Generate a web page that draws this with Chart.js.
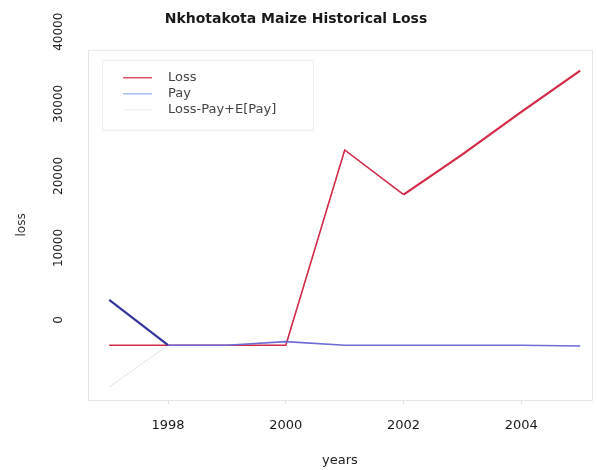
<!DOCTYPE html>
<html lang="en">
<head>
    <meta charset="UTF-8">
    <title>Nkhotakota Maize Historical Loss</title>
    <script src="https://cdn.jsdelivr.net/npm/chart.js"></script>
    <style>
        body {
            margin: 0;
            padding: 0;
            background: #ffffff;
        }
        .chart-box {
            width: 597px;
            height: 470px;
        }
    </style>
</head>
<body>
    <div class="chart-box">
        <canvas id="lossChart" width="597" height="470"></canvas>
    </div>

    <script>
        // values
        var years = [1997, 1998, 1999, 2000, 2001, 2002, 2003, 2004, 2005];
        var loss = [-3500, -3500, -3500, -3500, 23600, 17400, 23000, 28900, 34600];
        var pay = [2800, -3500, -3500, -3000, -3500, -3500, -3500, -3500, -3600];
        var adjusted = [-9300, -3500, -3500, -3500, 23600, 17400, 23000, 28900, 34600];

        var xTicks = [1998, 2000, 2002, 2004];
        var yTicks = [0, 10000, 20000, 30000, 40000];

        var FONT = "'DejaVu Sans', sans-serif";

        function toPoints(vals) {
            return vals.map(function (v, i) { return { x: years[i], y: v }; });
        }

        // plot frame + legend box inside the plot, like base R
        var framePlugin = {
            id: 'frame',
            afterDraw: function (chart) {
                var ctx = chart.ctx;
                var a = chart.chartArea;
                ctx.save();
                ctx.strokeStyle = '#e6e6e6';
                ctx.lineWidth = 1;
                ctx.strokeRect(a.left + 0.5, a.top + 0.5, a.right - a.left, a.bottom - a.top);

                // legend
                var lx = a.left + 14, ly = a.top + 10;
                ctx.strokeStyle = '#ececec';
                ctx.strokeRect(lx + 0.5, ly + 0.5, 211, 70);
                ctx.font = '13px ' + FONT;
                ctx.textBaseline = 'middle';
                chart.data.datasets.forEach(function (ds, i) {
                    var y = ly + 18 + i * 16;
                    ctx.strokeStyle = ds.legendColor || ds.borderColor;
                    ctx.lineWidth = 1.2;
                    ctx.beginPath();
                    ctx.moveTo(lx + 21, y);
                    ctx.lineTo(lx + 50, y);
                    ctx.stroke();
                    ctx.fillStyle = '#444';
                    ctx.fillText(ds.label, lx + 66, y);
                });

                // rotated y tick labels
                var ys = chart.scales.y;
                ctx.font = '12px ' + FONT;
                ctx.fillStyle = '#222';
                ctx.textAlign = 'center';
                yTicks.forEach(function (t) {
                    ctx.save();
                    ctx.translate(59, ys.getPixelForValue(t));
                    ctx.rotate(-Math.PI / 2);
                    ctx.fillText(String(t), 0, 0);
                    ctx.restore();
                });
                ctx.restore();
            }
        };

        var ctx = document.getElementById('lossChart').getContext('2d');
        var lossChart = new Chart(ctx, {
            type: 'line',
            data: {
                datasets: [{
                    label: 'Loss',
                    data: toPoints(loss),
                    borderColor: '#d42a48',
                    borderWidth: 1.6,
                    order: 2,
                    segment: {
                        borderWidth: function (c) { return c.p0DataIndex >= 5 ? 2.2 : undefined; }
                    }
                }, {
                    label: 'Pay',
                    data: toPoints(pay),
                    borderColor: '#6c6cd4',
                    legendColor: '#8fb0ea',
                    borderWidth: 1.6,
                    order: 1,
                    segment: {
                        borderColor: function (c) { return c.p0DataIndex === 0 ? '#34349e' : undefined; },
                        borderWidth: function (c) { return c.p0DataIndex === 0 ? 2.2 : undefined; }
                    }
                }, {
                    label: 'Loss-Pay+E[Pay]',
                    data: toPoints(adjusted),
                    borderColor: '#e6e0f0',
                    legendColor: '#f0f0f0',
                    borderWidth: 1,
                    order: 3
                }]
            },
            options: {
                responsive: false,
                animation: false,
                layout: { padding: { right: 5 } },
                elements: {
                    point: { radius: 0 },
                    line: { tension: 0 }
                },
                plugins: {
                    legend: { display: false },
                    tooltip: { enabled: false },
                    title: {
                        display: true,
                        text: 'Nkhotakota Maize Historical Loss',
                        color: '#1a1a1a',
                        font: { family: FONT, size: 14, weight: 'bold' },
                        padding: { top: 11, bottom: 22 }
                    }
                },
                scales: {
                    x: {
                        type: 'linear',
                        min: 1996.64,
                        max: 2005.2,
                        afterBuildTicks: function (s) {
                            s.ticks = xTicks.map(function (v) { return { value: v }; });
                        },
                        afterFit: function (s) { s.height = 70; },
                        grid: { drawOnChartArea: false, tickLength: 4, color: '#e0e0e0' },
                        border: { display: false },
                        ticks: {
                            color: '#1a1a1a',
                            font: { family: FONT, size: 13 },
                            padding: 14,
                            maxRotation: 0,
                            callback: function (v) { return String(v); }
                        },
                        title: {
                            display: true,
                            text: 'years',
                            color: '#222',
                            font: { family: FONT, size: 13 },
                            padding: { top: 0, bottom: 2 }
                        }
                    },
                    y: {
                        min: -11100,
                        max: 37500,
                        afterFit: function (s) { s.width = 88; },
                        grid: { display: false },
                        border: { display: false },
                        ticks: { display: false },
                        title: {
                            display: true,
                            text: 'loss',
                            color: '#333',
                            font: { family: FONT, size: 12 },
                            padding: { top: 15, bottom: 0 }
                        }
                    }
                }
            },
            plugins: [framePlugin]
        });
    </script>
</body>
</html>
